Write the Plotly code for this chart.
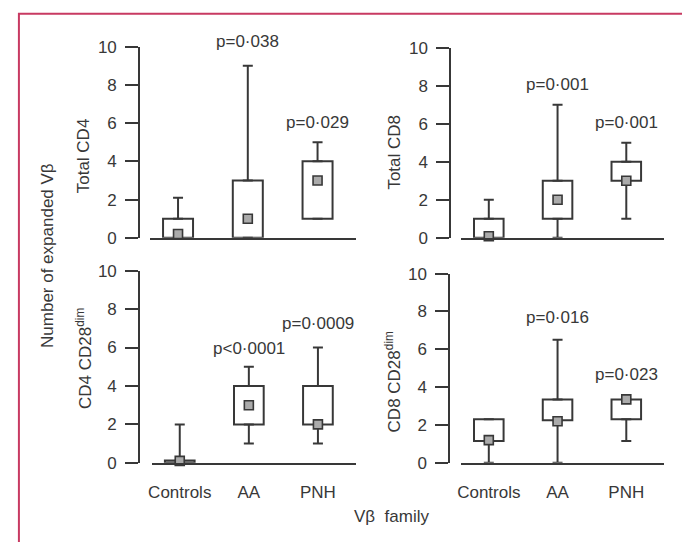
import plotly.graph_objects as go

W, H = 682, 552

categories = ["Controls", "AA", "PNH"]
positions = [0, 1, 2]

panel_titles = ["Total CD4", "Total CD8", "CD4 CD28<sup>dim</sup>", "CD8 CD28<sup>dim</sup>"]

# each panel: lower whisker, q1, median, q3, upper whisker, p-value labels (+ label baseline height)
cd4_low = [0, 0, 1]
cd4_q1 = [0, 0, 1]
cd4_med = [0.2, 1, 3]
cd4_q3 = [1, 3, 4]
cd4_high = [2.1, 9, 5]
cd4_p = ["", "p=0·038", "p=0·029"]
cd4_p_y = [None, 9.65, 5.45]

cd8_low = [0, 0, 1]
cd8_q1 = [0, 1, 3]
cd8_med = [0.08, 2, 3]
cd8_q3 = [1, 3, 4]
cd8_high = [2, 7, 5]
cd8_p = ["", "p=0·001", "p=0·001"]
cd8_p_y = [None, 7.45, 5.45]

cd4dim_low = [0, 1, 1]
cd4dim_q1 = [0, 2, 2]
cd4dim_med = [0.1, 3, 2]
cd4dim_q3 = [0.12, 4, 4]
cd4dim_high = [2, 5, 6]
cd4dim_p = ["", "p<0·0001", "p=0·0009"]
cd4dim_p_y = [None, 5.35, 6.65]

cd8dim_low = [0, 0, 1.15]
cd8dim_q1 = [1.15, 2.25, 2.3]
cd8dim_med = [1.2, 2.2, 3.35]
cd8dim_q3 = [2.3, 3.35, 3.35]
cd8dim_high = [2.3, 6.5, 3.35]
cd8dim_p = ["", "p=0·016", "p=0·023"]
cd8dim_p_y = [None, 7.05, 4.05]

panels = [
    (cd4_low, cd4_q1, cd4_med, cd4_q3, cd4_high, cd4_p, cd4_p_y),
    (cd8_low, cd8_q1, cd8_med, cd8_q3, cd8_high, cd8_p, cd8_p_y),
    (cd4dim_low, cd4dim_q1, cd4dim_med, cd4dim_q3, cd4dim_high, cd4dim_p, cd4dim_p_y),
    (cd8dim_low, cd8dim_q1, cd8dim_med, cd8dim_q3, cd8dim_high, cd8dim_p, cd8dim_p_y),
]

# layout in pixels: x-domain, y-domain (top, bottom), y-axis line x
geom = [
    ((147, 354), (39, 237), 136),
    ((460, 664), (40, 237), 449),
    ((149, 354), (271, 470), 136),
    ((460, 664), (274, 470), 448),
]

INK = "#383838"
FONT = "Liberation Sans"
FS = 17

fig = go.Figure()
layout = dict(
    width=W, height=H, margin=dict(l=0, r=0, t=0, b=0),
    paper_bgcolor="white", plot_bgcolor="white", showlegend=False,
    font=dict(family=FONT, size=FS, color=INK),
)
annotations = []

for i, ((low, q1, med, q3, high, plab, ply), ((x0, x1), (yt, yb), yaxx)) in enumerate(zip(panels, geom)):
    n = "" if i == 0 else str(i + 1)
    xa, ya = "x" + n, "y" + n
    # boxes
    fig.add_trace(go.Bar(
        x=positions, base=q1, y=[b - a for a, b in zip(q1, q3)], width=0.43,
        marker=dict(color="white", line=dict(color=INK, width=2)),
        xaxis=xa, yaxis=ya, hoverinfo="skip",
    ))
    # upper whiskers
    fig.add_trace(go.Scatter(
        x=positions, y=q3, mode="markers",
        marker=dict(size=1, color="rgba(0,0,0,0)"),
        error_y=dict(type="data", symmetric=False, array=[h - q for h, q in zip(high, q3)],
                     arrayminus=[0, 0, 0], color=INK, thickness=2, width=5),
        xaxis=xa, yaxis=ya, cliponaxis=False, hoverinfo="skip",
    ))
    # lower whiskers
    fig.add_trace(go.Scatter(
        x=positions, y=q1, mode="markers",
        marker=dict(size=1, color="rgba(0,0,0,0)"),
        error_y=dict(type="data", symmetric=False, array=[0, 0, 0],
                     arrayminus=[q - l for q, l in zip(q1, low)], color=INK, thickness=2, width=5),
        xaxis=xa, yaxis=ya, cliponaxis=False, hoverinfo="skip",
    ))
    # medians
    fig.add_trace(go.Scatter(
        x=positions, y=med, mode="markers",
        marker=dict(symbol="square", size=9, color="#ababab", line=dict(color=INK, width=1.6)),
        xaxis=xa, yaxis=ya, cliponaxis=False, hoverinfo="skip",
    ))
    bottom = i >= 2
    layout["xaxis" + n] = dict(
        domain=[x0 / W, x1 / W], anchor=ya, range=[-0.4, 2.55],
        tickvals=positions, ticktext=categories, showticklabels=bottom,
        ticks="", showline=True, linecolor=INK, linewidth=2,
        showgrid=False, zeroline=False, fixedrange=True,
        tickfont=dict(size=FS, color=INK), ticklabelstandoff=13,
    )
    layout["yaxis" + n] = dict(
        domain=[1 - yb / H, 1 - yt / H], anchor="free", position=yaxx / W,
        range=[0, 10], tickvals=[0, 2, 4, 6, 8, 10],
        ticks="outside", ticklen=13, tickwidth=2, tickcolor=INK,
        showline=True, linecolor=INK, linewidth=2,
        showgrid=False, zeroline=False, fixedrange=True,
        tickfont=dict(size=FS, color=INK), ticklabelstandoff=5,
    )
    for p, txt, yy in zip(positions, plab, ply):
        if txt:
            annotations.append(dict(
                x=p, y=yy, xref=xa, yref=ya, text=txt, showarrow=False,
                font=dict(size=FS, color=INK), xanchor="center", yanchor="bottom",
            ))

# y titles
ytitle_pos = [(80, 152), (393, 148), (80, 362), (391, 386)]
for t, (px, py) in zip(panel_titles, ytitle_pos):
    annotations.append(dict(
        x=px / W, y=1 - py / H, xref="paper", yref="paper", text=t, textangle=-90,
        showarrow=False, font=dict(size=FS, color=INK), xanchor="center", yanchor="middle",
    ))

annotations.append(dict(
    x=43 / W, y=1 - 255 / H, xref="paper", yref="paper", text="Number of expanded Vβ",
    textangle=-90, showarrow=False, font=dict(size=FS, color=INK),
    xanchor="center", yanchor="middle",
))
annotations.append(dict(
    x=390 / W, y=1 - 526 / H, xref="paper", yref="paper", text="Vβ  family",
    showarrow=False, font=dict(size=FS, color=INK), xanchor="center", yanchor="middle",
))

layout["annotations"] = annotations
layout["shapes"] = [dict(
    type="path", xref="paper", yref="paper",
    path=f"M {15 / W} 0 L {15 / W} {1 - 5 / H} L 1 {1 - 5 / H}",
    line=dict(color="#c83a62", width=2),
)]

fig.update_layout(**layout)
fig.write_html("out.html")
